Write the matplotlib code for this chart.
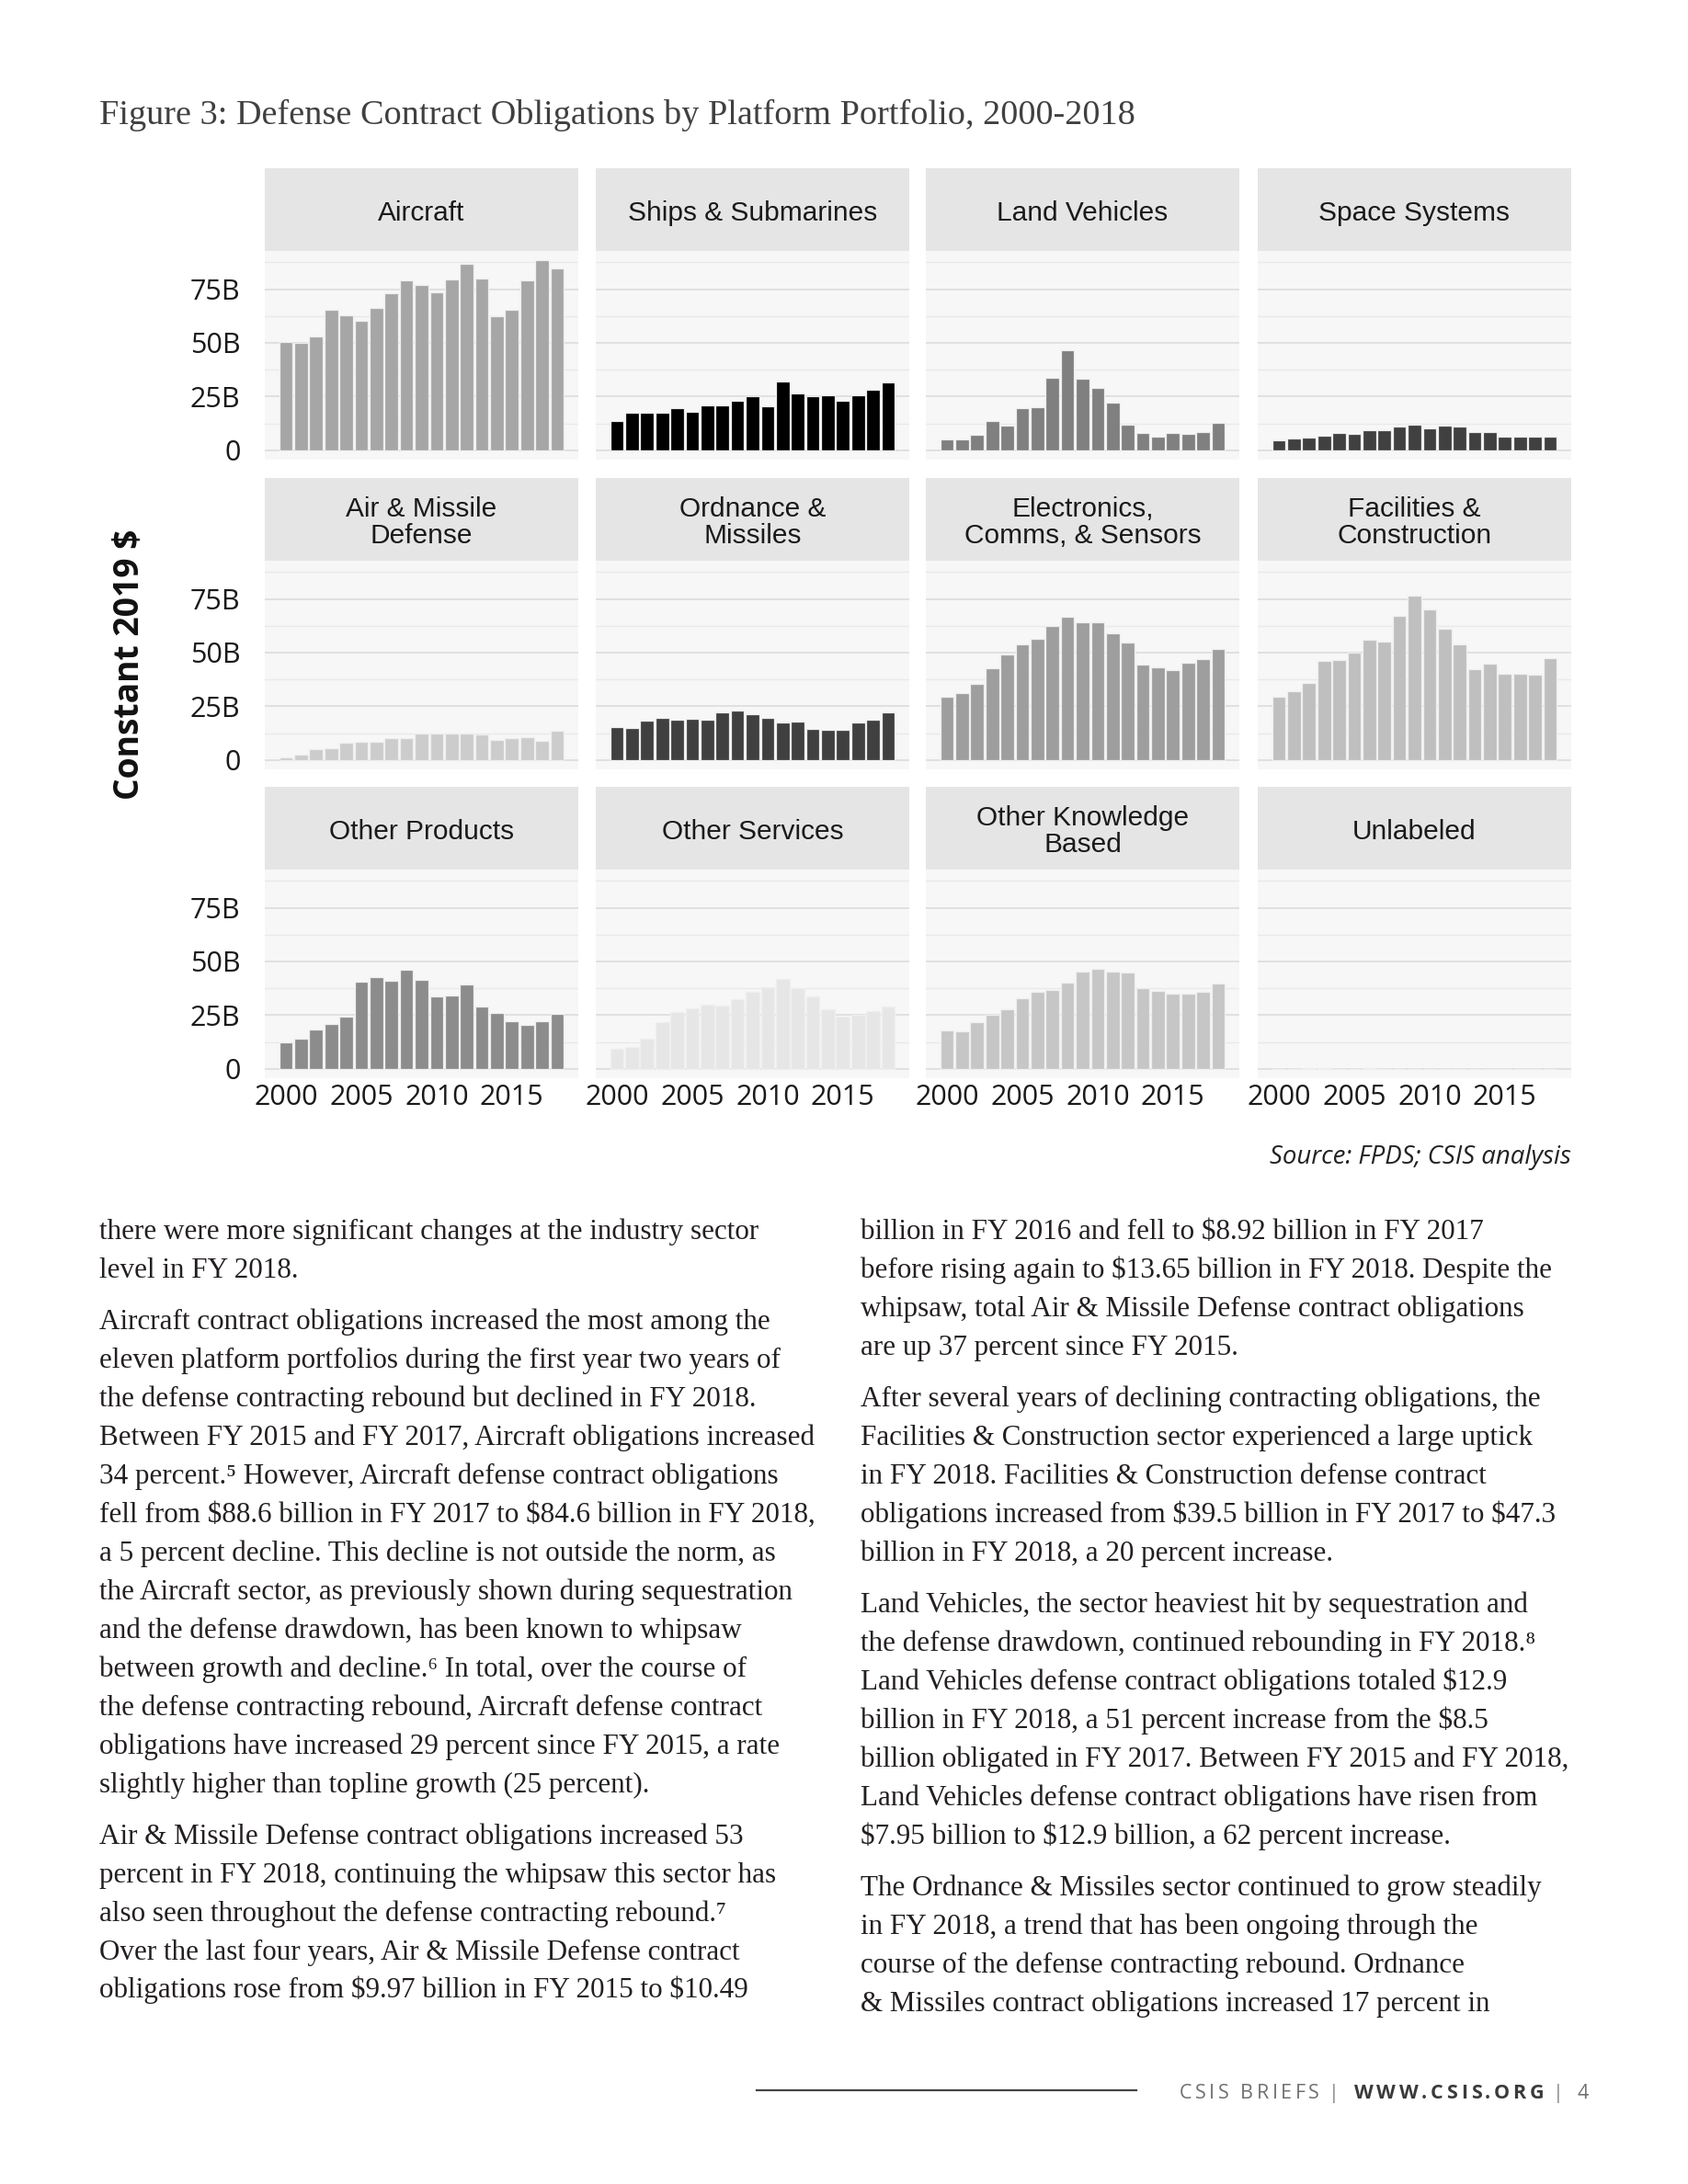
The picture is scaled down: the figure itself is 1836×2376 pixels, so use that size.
import matplotlib
matplotlib.use('Agg')
import matplotlib.pyplot as plt
from matplotlib.ticker import FixedLocator

W, H = 1836, 2376

# ---------------- data ----------------
years = list(range(2000, 2019))
x_ticks = [2000, 2005, 2010, 2015]
y_ticks = [0, 25, 50, 75]
y_ticklabels = ['0', '25B', '50B', '75B']

aircraft = [50.6, 49.9, 53.1, 65.6, 63.0, 60.1, 66.1, 72.9, 79.0, 76.9, 73.4, 79.7, 86.7, 80.0, 62.4, 65.3, 78.9, 88.6, 84.6]
ships = [13.6, 17.4, 17.6, 17.3, 19.6, 17.9, 20.7, 20.7, 22.9, 25.0, 20.3, 32.0, 26.4, 25.1, 25.6, 22.9, 25.7, 28.0, 31.7]
land = [4.9, 5.0, 7.0, 13.4, 11.4, 19.7, 20.0, 33.9, 46.6, 33.4, 29.1, 22.0, 12.0, 8.1, 6.3, 7.95, 7.7, 8.5, 12.9]
space = [4.4, 5.6, 5.9, 6.9, 8.0, 7.7, 9.3, 9.4, 10.9, 11.7, 10.3, 11.6, 11.1, 8.3, 8.6, 6.4, 6.4, 6.4, 6.1]
air_missile = [1.3, 2.6, 4.9, 5.3, 7.9, 8.3, 8.3, 10.0, 10.3, 12.1, 12.1, 12.3, 12.4, 11.7, 9.1, 9.97, 10.49, 8.92, 13.65]
ordnance = [15.4, 14.7, 18.4, 19.7, 18.6, 19.0, 18.7, 22.1, 23.1, 21.1, 19.7, 17.6, 17.9, 14.4, 13.9, 14.0, 17.4, 18.7, 22.1]
electronics = [29.3, 31.3, 35.4, 42.6, 49.0, 53.9, 56.3, 62.4, 66.6, 64.1, 64.3, 59.1, 54.7, 44.4, 43.3, 41.7, 45.1, 46.9, 51.9]
facilities = [29.6, 32.1, 35.7, 46.3, 46.7, 50.1, 56.1, 55.3, 67.1, 76.7, 70.3, 61.3, 54.0, 42.4, 45.0, 40.1, 40.1, 39.5, 47.3]
other_products = [12.4, 14.2, 18.4, 21.0, 24.1, 40.7, 42.8, 41.2, 46.1, 41.5, 33.6, 34.1, 39.2, 28.9, 26.0, 22.3, 20.4, 22.1, 25.4]
other_services = [9.1, 10.2, 14.2, 21.6, 26.3, 28.3, 29.7, 29.3, 32.3, 35.8, 38.1, 41.7, 37.5, 33.5, 27.6, 24.3, 25.0, 26.9, 28.9]
other_knowledge = [17.8, 17.4, 21.8, 25.3, 27.6, 32.9, 35.9, 36.8, 40.2, 45.3, 46.4, 45.3, 44.8, 37.4, 36.1, 35.2, 35.1, 35.9, 39.5]
unlabeled = [0.0, 0.0, 0.2, 0.2, 0.0, 0.0, 0.2, 0.0, 0.0, 0.0, 0.0, 0.0, 0.0, 0.0, 0.0, 0.0, 0.0, 0.0, 0.0]

panel_titles = ['Aircraft', 'Ships & Submarines', 'Land Vehicles', 'Space Systems',
                'Air & Missile\nDefense', 'Ordnance &\nMissiles', 'Electronics,\nComms, & Sensors',
                'Facilities &\nConstruction', 'Other Products', 'Other Services',
                'Other Knowledge\nBased', 'Unlabeled']
panel_values = [aircraft, ships, land, space, air_missile, ordnance, electronics, facilities,
                other_products, other_services, other_knowledge, unlabeled]
panel_colors = ['#a6a6a6', '#000000', '#808080', '#404040', '#cccccc', '#404040', '#9e9e9e',
                '#bfbfbf', '#8c8c8c', '#e6e6e6', '#c6c6c6', '#8c8c8c']

title = 'Figure 3: Defense Contract Obligations by Platform Portfolio, 2000-2018'
y_label = 'Constant 2019 $'
source = 'Source: FPDS; CSIS analysis'

left_paragraphs = [
    ["there were more significant changes at the industry sector",
     "level in FY 2018."],
    ["Aircraft contract obligations increased the most among the",
     "eleven platform portfolios during the first year two years of",
     "the defense contracting rebound but declined in FY 2018.",
     "Between FY 2015 and FY 2017, Aircraft obligations increased",
     "34 percent.\u2075 However, Aircraft defense contract obligations",
     "fell from $88.6 billion in FY 2017 to $84.6 billion in FY 2018,",
     "a 5 percent decline. This decline is not outside the norm, as",
     "the Aircraft sector, as previously shown during sequestration",
     "and the defense drawdown, has been known to whipsaw",
     "between growth and decline.\u2076 In total, over the course of",
     "the defense contracting rebound, Aircraft defense contract",
     "obligations have increased 29 percent since FY 2015, a rate",
     "slightly higher than topline growth (25 percent)."],
    ["Air & Missile Defense contract obligations increased 53",
     "percent in FY 2018, continuing the whipsaw this sector has",
     "also seen throughout the defense contracting rebound.\u2077",
     "Over the last four years, Air & Missile Defense contract",
     "obligations rose from $9.97 billion in FY 2015 to $10.49"],
]
right_paragraphs = [
    ["billion in FY 2016 and fell to $8.92 billion in FY 2017",
     "before rising again to $13.65 billion in FY 2018. Despite the",
     "whipsaw, total Air & Missile Defense contract obligations",
     "are up 37 percent since FY 2015."],
    ["After several years of declining contracting obligations, the",
     "Facilities & Construction sector experienced a large uptick",
     "in FY 2018. Facilities & Construction defense contract",
     "obligations increased from $39.5 billion in FY 2017 to $47.3",
     "billion in FY 2018, a 20 percent increase."],
    ["Land Vehicles, the sector heaviest hit by sequestration and",
     "the defense drawdown, continued rebounding in FY 2018.\u2078",
     "Land Vehicles defense contract obligations totaled $12.9",
     "billion in FY 2018, a 51 percent increase from the $8.5",
     "billion obligated in FY 2017. Between FY 2015 and FY 2018,",
     "Land Vehicles defense contract obligations have risen from",
     "$7.95 billion to $12.9 billion, a 62 percent increase."],
    ["The Ordnance & Missiles sector continued to grow steadily",
     "in FY 2018, a trend that has been ongoing through the",
     "course of the defense contracting rebound. Ordnance",
     "& Missiles contract obligations increased 17 percent in"],
]
footer_parts = ['CSIS BRIEFS', '|', 'WWW.CSIS.ORG', '|', '4']

# ---------------- figure ----------------
fig = plt.figure(figsize=(W / 100, H / 100), dpi=100, facecolor='white')
renderer = fig.canvas.get_renderer()


def rect(x, y, w, h):
    return [x / W, 1 - (y + h) / H, w / W, h / H]


def ftext(x, y, s, **kw):
    return fig.text(x / W, 1 - y / H, s, parse_math=False, **kw)


def fit(t, target_w):
    w = t.get_window_extent(renderer).width
    t.set_fontsize(t.get_fontsize() * target_w / w)
    return t.get_fontsize()


col_x = [288, 648, 1007, 1368]
row_top = [273, 610, 946]
strip_top = [183, 520, 856]
pw, ph, sh = 341, 227, 90
tick_fs = 22

for i, (ttl, vals, colr) in enumerate(zip(panel_titles, panel_values, panel_colors)):
    r, c = divmod(i, 4)
    ax = fig.add_axes(rect(col_x[c], row_top[r], pw, ph))
    ax.set_facecolor('#f7f7f7')
    ax.bar(years, vals, width=0.9, color=colr, edgecolor='#efefef', linewidth=0.9, zorder=3)
    ax.set_xlim(1998.6, 2019.4)
    ax.set_ylim(-4.4, 92.8)
    ax.yaxis.set_major_locator(FixedLocator(y_ticks))
    ax.yaxis.set_minor_locator(FixedLocator([12.5, 37.5, 62.5, 87.5]))
    ax.grid(axis='y', which='major', color='#dcdcdc', linewidth=1.2)
    ax.grid(axis='y', which='minor', color='#e9e9e9', linewidth=1.0)
    ax.set_axisbelow(True)
    for sp in ax.spines.values():
        sp.set_visible(False)
    ax.tick_params(which='both', length=0)
    ax.set_xticks(x_ticks)
    if r == 2:
        ax.set_xticklabels([str(v) for v in x_ticks], fontsize=tick_fs, family='Open Sans', color='#1a1a1a')
        ax.tick_params(axis='x', pad=4)
    else:
        ax.set_xticklabels([])
    if c == 0:
        ax.set_yticklabels(y_ticklabels, fontsize=tick_fs, family='Open Sans', color='#1a1a1a')
        ax.tick_params(axis='y', pad=19)
    else:
        ax.set_yticklabels([])

    sax = fig.add_axes(rect(col_x[c], strip_top[r], pw, sh))
    sax.set_facecolor('#e5e5e5')
    sax.set_xticks([]); sax.set_yticks([])
    for sp in sax.spines.values():
        sp.set_visible(False)
    sax.text(0.5, 0.46, ttl, transform=sax.transAxes, ha='center', va='center',
             fontsize=21.5, family='Liberation Sans', color='#1a1a1a', linespacing=1.08)

# title
t = ftext(108, 135, title, family='Liberation Serif', color='#404040', fontsize=25, va='baseline')
fit(t, 1128)

# y label
t = ftext(141, 723, y_label, family='Open Sans', weight='bold', rotation=90,
          ha='center', va='center', fontsize=24, color='#111111')
w = t.get_window_extent(renderer).height
t.set_fontsize(t.get_fontsize() * 295 / w)

# source
t = ftext(1709, 1266, source, family='Open Sans', style='italic', ha='right', va='baseline',
          fontsize=16, color='#222222')
fit(t, 329)

# body text
ref = ftext(0, 0, left_paragraphs[1][5], family=['Liberation Serif', 'DejaVu Serif'], fontsize=20)
body_fs = fit(ref, 780)
ref.remove()


def column(x, paragraphs):
    y = 1348
    for p in paragraphs:
        for k, line in enumerate(p):
            ftext(x, y, line, family=['Liberation Serif', 'DejaVu Serif'], fontsize=body_fs,
                  color='#231f20', va='baseline')
            if k < len(p) - 1:
                y += 41.97
        y += 56


column(108, left_paragraphs)
column(936, right_paragraphs)

# footer
fig.add_artist(plt.Line2D([823 / W, 1236 / W], [1 - 2274 / H, 1 - 2274 / H], color='#444444', linewidth=1.6))


def spaced(x0, x1, s, **kw):
    objs = []
    widths = []
    for ch in s:
        tt = ftext(0, 2283, ch, va='baseline', **kw)
        wdt = tt.get_window_extent(renderer).width if ch != ' ' else kw['fontsize'] * 0.26 * 100 / 72
        objs.append(tt); widths.append(wdt)
    total = sum(widths)
    track = (x1 - x0 - total) / max(len(s) - 1, 1)
    x = x0
    for tt, wdt in zip(objs, widths):
        tt.set_x(x / W)
        x += wdt + track


spaced(1283, 1435, footer_parts[0], family='Open Sans', fontsize=15.5, color='#707070')
ftext(1451, 2283, footer_parts[1], family='Open Sans', fontsize=15.5, color='#8a8a8a', va='baseline', ha='center')
spaced(1473, 1679, footer_parts[2], family='Open Sans', weight='bold', fontsize=15.5, color='#3a3a3a')
ftext(1695, 2283, footer_parts[3], family='Open Sans', fontsize=15.5, color='#8a8a8a', va='baseline', ha='center')
ftext(1716, 2283, footer_parts[4], family='Open Sans', fontsize=15.5, color='#707070', va='baseline')

fig.savefig('out.png', dpi=100, facecolor='white')
